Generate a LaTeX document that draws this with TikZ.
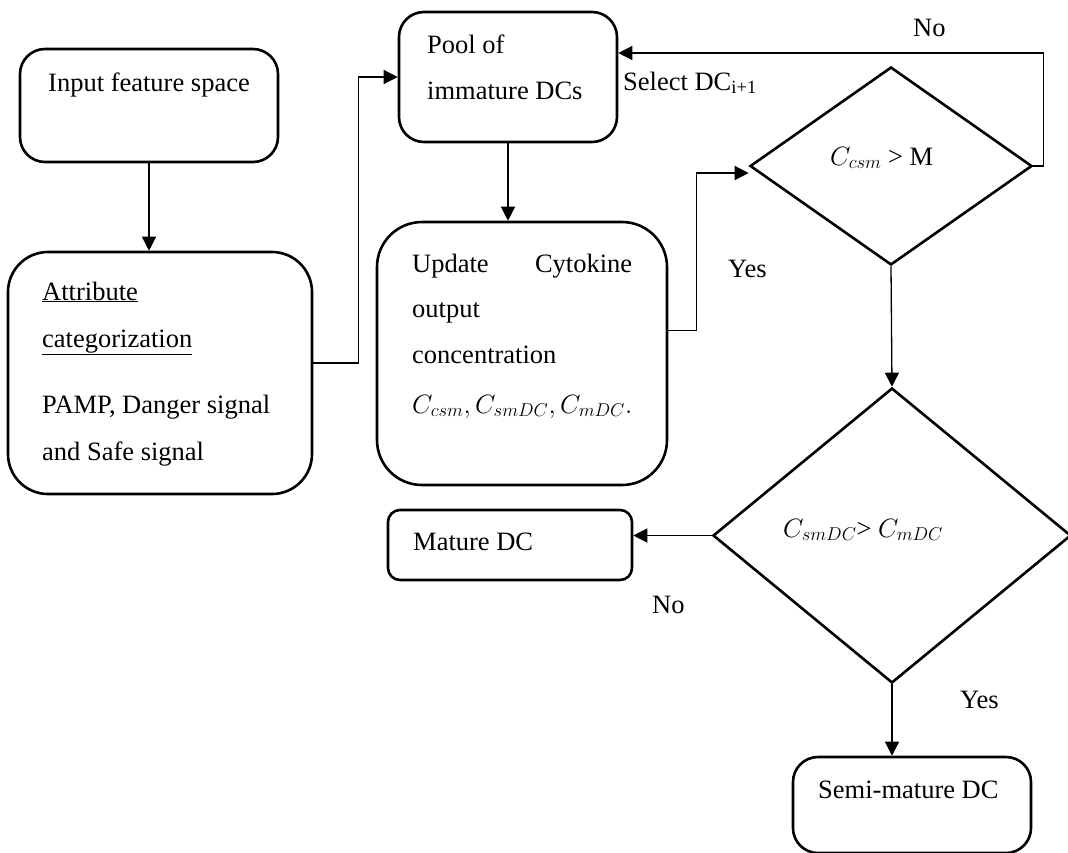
\RequirePackage{fix-cm}
\documentclass[tikz,border=0pt]{standalone}
\usepackage{fontspec}
\setmainfont{Liberation Serif}
\usetikzlibrary{shapes.geometric,arrows.meta,calc}
\begin{document}
\begin{tikzpicture}[x=1pt,y=-1pt,
  font=\fontsize{26.5pt}{30pt}\selectfont,
  box/.style={draw,line width=2.6pt,inner sep=0pt},
  dia/.style={draw,shape=diamond,line width=2.6pt,inner sep=0pt},
  txt/.style={anchor=base west,inner sep=0pt},
  conn/.style={line width=1.3pt},
  arr/.style={conn,-{Triangle[length=14pt,width=14pt]}}]
\useasboundingbox (0,0) rectangle (1068,852);
% boxes
\node[box,rounded corners=25pt,minimum width=258pt,minimum height=113pt] (in) at (149,105.5) {};
\node[box,rounded corners=40pt,minimum width=304pt,minimum height=242pt] (attr) at (160,373) {};
\node[box,rounded corners=25pt,minimum width=218pt,minimum height=130pt] (pool) at (508,77) {};
\node[box,rounded corners=45pt,minimum width=290pt,minimum height=263pt] (upd) at (522,353.5) {};
\node[box,rounded corners=12pt,minimum width=244pt,minimum height=70pt] (mat) at (510,545) {};
\node[box,rounded corners=25pt,minimum width=238pt,minimum height=96pt] (semi) at (912,805) {};
\node[dia,minimum width=282pt,minimum height=198pt] (d1) at (891,166) {};
\node[dia,minimum width=358pt,minimum height=295pt] (d2) at (892,535.5) {};
% texts
\node[txt] (tin) at (48,91) {Input feature space};
\node[txt] (ta1) at (42,300) {\underline{Attribute}};
\node[txt] (ta2) at (42,347) {\underline{categorization}};
\node[txt] (ta3) at (42,413) {PAMP, Danger signal};
\node[txt] (ta4) at (42,460) {and Safe signal};
\node[txt] (tp1) at (427,53) {Pool of};
\node[txt] (tp2) at (427,99) {immature DCs};
\node[txt] (tsel) at (623,90) {Select DC\textsubscript{i+1}};
\node[txt] (tno1) at (913,36) {No};
\node[txt] (tu1) at (412,272) {\makebox[220pt][s]{Update\hfill Cytokine}};
\node[txt] (tu2) at (412,317) {output};
\node[txt] (tu3) at (412,363) {concentration};
\node[txt] (tu4) at (412,413) {$C_{csm}, C_{smDC}, C_{mDC}.$};
\node[txt] (tyes1) at (728,277) {Yes};
\node[txt] (td1) at (830,165) {$C_{csm}$ > M};
\node[txt] (td2) at (783,537) {$C_{smDC}$> $C_{mDC}$};
\node[txt] (tmat) at (413,550) {Mature DC};
\node[txt] (tno2) at (652,613) {No};
\node[txt] (tsemi) at (818,798) {Semi-mature DC};
\node[txt] (tyes2) at (960,708) {Yes};
% connectors
\draw[arr] (in.south) -- (in.south |- attr.north);
\draw[arr] ([yshift=10pt]attr.east) -- ++(45,0) |- (pool.west);
\draw[arr] (pool.south) -- (pool.south |- upd.north);
\draw[arr] ([yshift=23pt]upd.east) -- ++(28,0) |- ([yshift=-7pt]d1.west);
\draw[arr] (d1.east) -- ++(10,0) |- ([yshift=24pt]pool.east);
\draw[arr] (d1.south) -- (d2.north);
\draw[arr] (d2.west) -- (d2.west -| mat.east);
\draw[arr] (d2.south) -- (d2.south |- semi.north);
\end{tikzpicture}
\end{document}
